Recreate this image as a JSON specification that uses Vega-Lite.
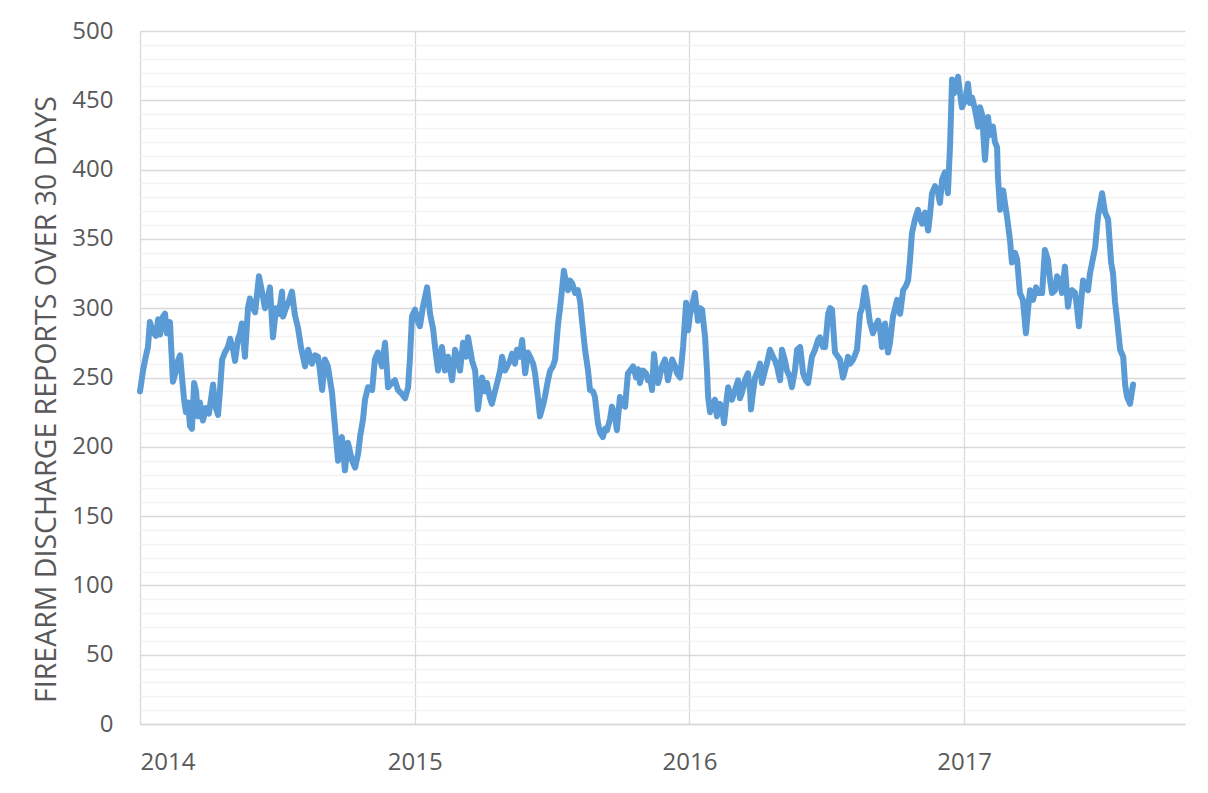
{
  "$schema": "https://vega.github.io/schema/vega-lite/v6.json",
  "autosize": "none",
  "width": 1045,
  "height": 693,
  "padding": {"left": 140, "top": 31, "right": 23, "bottom": 69},
  "background": "white",
  "config": {"view": {"stroke": null}, "font": "Open Sans"},
  "data": {"values": [
    {"t":2014.000,"v":240},{"t":2014.011,"v":255},{"t":2014.022,"v":266},{"t":2014.029,"v":272},{"t":2014.036,"v":290},{"t":2014.047,"v":283},{"t":2014.058,"v":280},{"t":2014.066,"v":292},{"t":2014.073,"v":281},{"t":2014.084,"v":294},{"t":2014.091,"v":296},{"t":2014.098,"v":282},{"t":2014.109,"v":290},{"t":2014.120,"v":247},{"t":2014.131,"v":255},{"t":2014.138,"v":262},{"t":2014.146,"v":266},{"t":2014.153,"v":250},{"t":2014.160,"v":235},{"t":2014.167,"v":225},{"t":2014.175,"v":232},{"t":2014.182,"v":215},{"t":2014.189,"v":213},{"t":2014.197,"v":246},{"t":2014.204,"v":240},{"t":2014.211,"v":222},{"t":2014.218,"v":232},{"t":2014.229,"v":219},{"t":2014.240,"v":228},{"t":2014.251,"v":224},{"t":2014.266,"v":245},{"t":2014.273,"v":230},{"t":2014.284,"v":223},{"t":2014.291,"v":240},{"t":2014.299,"v":263},{"t":2014.309,"v":268},{"t":2014.320,"v":272},{"t":2014.328,"v":278},{"t":2014.339,"v":270},{"t":2014.346,"v":262},{"t":2014.357,"v":278},{"t":2014.364,"v":282},{"t":2014.371,"v":289},{"t":2014.382,"v":265},{"t":2014.393,"v":300},{"t":2014.400,"v":307},{"t":2014.411,"v":300},{"t":2014.419,"v":297},{"t":2014.426,"v":310},{"t":2014.433,"v":323},{"t":2014.444,"v":312},{"t":2014.455,"v":300},{"t":2014.466,"v":308},{"t":2014.473,"v":315},{"t":2014.484,"v":279},{"t":2014.495,"v":300},{"t":2014.506,"v":296},{"t":2014.517,"v":312},{"t":2014.521,"v":294},{"t":2014.531,"v":300},{"t":2014.542,"v":305},{"t":2014.553,"v":312},{"t":2014.564,"v":295},{"t":2014.575,"v":286},{"t":2014.586,"v":272},{"t":2014.601,"v":258},{"t":2014.612,"v":270},{"t":2014.626,"v":260},{"t":2014.637,"v":266},{"t":2014.648,"v":265},{"t":2014.655,"v":255},{"t":2014.663,"v":241},{"t":2014.673,"v":263},{"t":2014.684,"v":258},{"t":2014.699,"v":239},{"t":2014.710,"v":214},{"t":2014.721,"v":190},{"t":2014.728,"v":205},{"t":2014.735,"v":207},{"t":2014.746,"v":183},{"t":2014.757,"v":203},{"t":2014.772,"v":190},{"t":2014.783,"v":185},{"t":2014.794,"v":195},{"t":2014.801,"v":207},{"t":2014.812,"v":220},{"t":2014.819,"v":234},{"t":2014.830,"v":243},{"t":2014.845,"v":241},{"t":2014.855,"v":263},{"t":2014.866,"v":268},{"t":2014.881,"v":258},{"t":2014.892,"v":275},{"t":2014.903,"v":243},{"t":2014.917,"v":246},{"t":2014.928,"v":248},{"t":2014.939,"v":241},{"t":2014.954,"v":238},{"t":2014.965,"v":235},{"t":2014.976,"v":243},{"t":2014.983,"v":265},{"t":2014.990,"v":294},
    {"t":2015.001,"v":299},{"t":2015.012,"v":290},{"t":2015.019,"v":287},{"t":2015.030,"v":301},{"t":2015.045,"v":315},{"t":2015.056,"v":296},{"t":2015.067,"v":285},{"t":2015.074,"v":272},{"t":2015.085,"v":255},{"t":2015.099,"v":272},{"t":2015.110,"v":255},{"t":2015.121,"v":265},{"t":2015.136,"v":248},{"t":2015.147,"v":270},{"t":2015.158,"v":262},{"t":2015.165,"v":255},{"t":2015.176,"v":275},{"t":2015.187,"v":265},{"t":2015.194,"v":279},{"t":2015.209,"v":262},{"t":2015.220,"v":255},{"t":2015.230,"v":227},{"t":2015.245,"v":250},{"t":2015.256,"v":240},{"t":2015.263,"v":246},{"t":2015.274,"v":235},{"t":2015.281,"v":231},{"t":2015.292,"v":240},{"t":2015.300,"v":246},{"t":2015.311,"v":255},{"t":2015.318,"v":265},{"t":2015.329,"v":255},{"t":2015.336,"v":258},{"t":2015.347,"v":262},{"t":2015.354,"v":267},{"t":2015.365,"v":260},{"t":2015.372,"v":270},{"t":2015.383,"v":265},{"t":2015.391,"v":277},{"t":2015.402,"v":253},{"t":2015.412,"v":268},{"t":2015.420,"v":265},{"t":2015.431,"v":260},{"t":2015.438,"v":253},{"t":2015.449,"v":235},{"t":2015.456,"v":222},{"t":2015.467,"v":230},{"t":2015.474,"v":236},{"t":2015.485,"v":248},{"t":2015.493,"v":255},{"t":2015.503,"v":258},{"t":2015.511,"v":263},{"t":2015.522,"v":289},{"t":2015.529,"v":300},{"t":2015.536,"v":313},{"t":2015.543,"v":327},{"t":2015.551,"v":318},{"t":2015.558,"v":313},{"t":2015.565,"v":320},{"t":2015.573,"v":318},{"t":2015.584,"v":311},{"t":2015.594,"v":313},{"t":2015.602,"v":305},{"t":2015.609,"v":291},{"t":2015.620,"v":270},{"t":2015.631,"v":255},{"t":2015.638,"v":241},{"t":2015.649,"v":240},{"t":2015.656,"v":236},{"t":2015.667,"v":217},{"t":2015.675,"v":210},{"t":2015.685,"v":207},{"t":2015.693,"v":213},{"t":2015.700,"v":212},{"t":2015.711,"v":220},{"t":2015.718,"v":229},{"t":2015.729,"v":222},{"t":2015.736,"v":212},{"t":2015.747,"v":236},{"t":2015.758,"v":230},{"t":2015.766,"v":229},{"t":2015.776,"v":253},{"t":2015.784,"v":255},{"t":2015.795,"v":258},{"t":2015.806,"v":250},{"t":2015.813,"v":256},{"t":2015.820,"v":246},{"t":2015.831,"v":255},{"t":2015.842,"v":253},{"t":2015.849,"v":248},{"t":2015.857,"v":250},{"t":2015.864,"v":241},{"t":2015.871,"v":267},{"t":2015.878,"v":255},{"t":2015.886,"v":246},{"t":2015.900,"v":258},{"t":2015.911,"v":263},{"t":2015.922,"v":248},{"t":2015.937,"v":263},{"t":2015.948,"v":258},{"t":2015.955,"v":253},{"t":2015.966,"v":250},{"t":2015.977,"v":272},{"t":2015.988,"v":304},{"t":2015.995,"v":284},
    {"t":2016.002,"v":295},{"t":2016.009,"v":301},{"t":2016.020,"v":311},{"t":2016.031,"v":291},{"t":2016.039,"v":300},{"t":2016.046,"v":299},{"t":2016.057,"v":279},{"t":2016.064,"v":255},{"t":2016.068,"v":236},{"t":2016.075,"v":225},{"t":2016.082,"v":229},{"t":2016.093,"v":234},{"t":2016.100,"v":222},{"t":2016.111,"v":231},{"t":2016.119,"v":228},{"t":2016.126,"v":217},{"t":2016.133,"v":230},{"t":2016.141,"v":243},{"t":2016.148,"v":237},{"t":2016.155,"v":234},{"t":2016.166,"v":241},{"t":2016.177,"v":248},{"t":2016.184,"v":235},{"t":2016.191,"v":239},{"t":2016.202,"v":248},{"t":2016.213,"v":253},{"t":2016.221,"v":240},{"t":2016.224,"v":227},{"t":2016.232,"v":240},{"t":2016.239,"v":250},{"t":2016.250,"v":255},{"t":2016.257,"v":260},{"t":2016.264,"v":246},{"t":2016.275,"v":255},{"t":2016.282,"v":260},{"t":2016.293,"v":270},{"t":2016.304,"v":265},{"t":2016.312,"v":262},{"t":2016.319,"v":258},{"t":2016.330,"v":248},{"t":2016.337,"v":270},{"t":2016.348,"v":262},{"t":2016.355,"v":255},{"t":2016.366,"v":250},{"t":2016.373,"v":243},{"t":2016.384,"v":255},{"t":2016.392,"v":270},{"t":2016.403,"v":272},{"t":2016.414,"v":253},{"t":2016.424,"v":248},{"t":2016.432,"v":246},{"t":2016.446,"v":265},{"t":2016.457,"v":270},{"t":2016.468,"v":277},{"t":2016.475,"v":279},{"t":2016.486,"v":272},{"t":2016.494,"v":272},{"t":2016.505,"v":296},{"t":2016.512,"v":300},{"t":2016.519,"v":299},{"t":2016.530,"v":268},{"t":2016.541,"v":265},{"t":2016.548,"v":263},{"t":2016.559,"v":250},{"t":2016.570,"v":258},{"t":2016.577,"v":265},{"t":2016.585,"v":260},{"t":2016.596,"v":263},{"t":2016.610,"v":270},{"t":2016.621,"v":296},{"t":2016.628,"v":300},{"t":2016.639,"v":315},{"t":2016.647,"v":305},{"t":2016.657,"v":290},{"t":2016.668,"v":282},{"t":2016.679,"v":288},{"t":2016.687,"v":291},{"t":2016.694,"v":285},{"t":2016.701,"v":272},{"t":2016.712,"v":289},{"t":2016.723,"v":268},{"t":2016.730,"v":275},{"t":2016.741,"v":294},{"t":2016.756,"v":306},{"t":2016.767,"v":296},{"t":2016.778,"v":313},{"t":2016.788,"v":316},{"t":2016.796,"v":320},{"t":2016.803,"v":335},{"t":2016.810,"v":354},{"t":2016.821,"v":364},{"t":2016.832,"v":371},{"t":2016.839,"v":365},{"t":2016.847,"v":361},{"t":2016.858,"v":369},{"t":2016.869,"v":356},{"t":2016.876,"v":368},{"t":2016.883,"v":383},{"t":2016.894,"v":388},{"t":2016.905,"v":383},{"t":2016.912,"v":376},{"t":2016.920,"v":393},{"t":2016.930,"v":398},{"t":2016.941,"v":383},{"t":2016.949,"v":419},{"t":2016.956,"v":465},{"t":2016.963,"v":455},{"t":2016.967,"v":457},{"t":2016.978,"v":467},{"t":2016.985,"v":455},{"t":2016.992,"v":445},
    {"t":2017.003,"v":450},{"t":2017.014,"v":462},{"t":2017.021,"v":448},{"t":2017.029,"v":452},{"t":2017.040,"v":443},{"t":2017.051,"v":431},{"t":2017.058,"v":445},{"t":2017.065,"v":440},{"t":2017.076,"v":407},{"t":2017.087,"v":438},{"t":2017.094,"v":425},{"t":2017.105,"v":431},{"t":2017.112,"v":420},{"t":2017.120,"v":416},{"t":2017.123,"v":395},{"t":2017.131,"v":371},{"t":2017.142,"v":385},{"t":2017.149,"v":375},{"t":2017.156,"v":366},{"t":2017.167,"v":349},{"t":2017.174,"v":333},{"t":2017.185,"v":340},{"t":2017.193,"v":335},{"t":2017.203,"v":311},{"t":2017.214,"v":306},{"t":2017.225,"v":282},{"t":2017.233,"v":300},{"t":2017.240,"v":313},{"t":2017.251,"v":306},{"t":2017.262,"v":315},{"t":2017.269,"v":311},{"t":2017.284,"v":311},{"t":2017.294,"v":342},{"t":2017.305,"v":335},{"t":2017.313,"v":320},{"t":2017.320,"v":311},{"t":2017.331,"v":313},{"t":2017.338,"v":323},{"t":2017.349,"v":320},{"t":2017.356,"v":311},{"t":2017.367,"v":330},{"t":2017.378,"v":301},{"t":2017.385,"v":310},{"t":2017.393,"v":313},{"t":2017.404,"v":311},{"t":2017.411,"v":300},{"t":2017.418,"v":287},{"t":2017.426,"v":305},{"t":2017.433,"v":320},{"t":2017.444,"v":315},{"t":2017.451,"v":313},{"t":2017.458,"v":325},{"t":2017.466,"v":333},{"t":2017.477,"v":344},{"t":2017.487,"v":366},{"t":2017.495,"v":375},{"t":2017.502,"v":383},{"t":2017.513,"v":369},{"t":2017.524,"v":364},{"t":2017.535,"v":333},{"t":2017.542,"v":325},{"t":2017.549,"v":305},{"t":2017.557,"v":291},{"t":2017.568,"v":270},{"t":2017.579,"v":265},{"t":2017.586,"v":245},{"t":2017.593,"v":236},{"t":2017.604,"v":231},{"t":2017.611,"v":240},{"t":2017.615,"v":245}
  ]},
  "layer": [
    {
      "mark": {"type": "line", "strokeOpacity": 0},
      "encoding": {
        "x": {"field": "t", "type": "quantitative", "scale": {"domain": [2014, 2017.804], "nice": false, "zero": false},
              "axis": {"values": [2014, 2015, 2016, 2017], "format": "d", "title": null, "grid": true, "gridColor": "#d9d9d9", "gridWidth": 1.3,
                       "ticks": false, "domainColor": "#d9d9d9", "domainWidth": 1.3, "labelFontSize": 24, "labelColor": "#595959", "labelPadding": 26, "labelFont": "Open Sans"}},
        "y": {"field": "v", "type": "quantitative", "scale": {"domain": [0, 500], "nice": false},
              "axis": {"orient": "left", "values": [0, 50, 100, 150, 200, 250, 300, 350, 400, 450, 500], "title": "FIREARM DISCHARGE REPORTS OVER 30 DAYS",
                       "grid": true, "gridColor": "#d9d9d9", "gridWidth": 1.3, "ticks": false, "domain": false,
                       "labelFontSize": 24, "labelColor": "#595959", "labelPadding": 27, "labelFont": "Open Sans",
                       "titleFontSize": 28.5, "titleFontWeight": "normal", "titleColor": "#595959", "titleFont": "Open Sans", "titlePadding": 10, "titleY": 368}}
      }
    },
    {
      "mark": {"type": "line", "color": "#5b9bd5", "strokeWidth": 6, "strokeJoin": "round", "strokeCap": "round"},
      "encoding": {
        "x": {"field": "t", "type": "quantitative", "scale": {"domain": [2014, 2017.804], "nice": false, "zero": false},
              "axis": {"values": [2014, 2015, 2016, 2017], "format": "d", "title": null, "grid": true, "gridColor": "#d9d9d9", "gridWidth": 1.3,
                       "ticks": false, "domainColor": "#d9d9d9", "domainWidth": 1.3, "labelFontSize": 24, "labelColor": "#595959", "labelPadding": 26, "labelFont": "Open Sans"}},
        "y": {"field": "v", "type": "quantitative", "scale": {"domain": [0, 500], "nice": false},
              "axis": {"orient": "left", "values": [10,20,30,40,60,70,80,90,110,120,130,140,160,170,180,190,210,220,230,240,260,270,280,290,310,320,330,340,360,370,380,390,410,420,430,440,460,470,480,490],
                       "labels": false, "ticks": false, "domain": false, "title": null, "grid": true, "gridColor": "#f2f2f2", "gridWidth": 1.3}}
      }
    }
  ],
  "resolve": {"axis": {"y": "independent"}}
}
